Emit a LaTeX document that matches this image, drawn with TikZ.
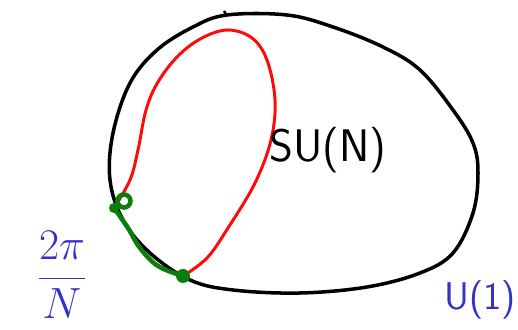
\documentclass[tikz,border=0pt]{standalone}
\usepackage{tikz}
\usetikzlibrary{positioning}

\definecolor{loopred}{RGB}{255,10,10}
\definecolor{pathgreen}{RGB}{10,125,10}
\definecolor{inkblue}{RGB}{50,50,200}

\begin{document}
\begin{tikzpicture}[
	x=0.02cm, y=-0.02cm,
	blob/.style={
		draw=black,
		line width=2pt,
		line join=round
	},
	redloop/.style={
		draw=loopred,
		line width=1.7pt,
		line cap=round
	},
	greenpath/.style={
		draw=pathgreen,
		line width=2.6pt,
		line cap=round
	},
	grouplabel/.style={
		font=\sffamily\fontsize{26}{28}\selectfont,
		inner sep=0pt
	},
	bluelabel/.style={
		text=inkblue,
		font=\sffamily\fontsize{22}{24}\selectfont,
		inner sep=0pt
	}
	]
	
	\useasboundingbox (0,0) rectangle (518,330);
	
	% ======================
	% Group manifold
	% ======================
	\draw[blob] plot[smooth cycle, tension=0.6] coordinates {
		(227,15) (287,15) (333,27) (383,47) (420,70) (453,110)
		(473,143) (478,173) (473,213) (453,253) (420,273) (367,287)
		(300,293) (233,290) (190,280) (150,253) (123,220) (110,180)
		(113,133) (130,83) (157,50) (193,27)};
	\draw[blob, line width=1.4pt] (224,11) -- (227,16);
	
	% ======================
	% Closed loop
	% ======================
	\coordinate (start) at (114,208);
	\coordinate (stop) at (183,276);
	\draw[redloop] plot[smooth, tension=0.6] coordinates {
		(start) (130,180) (138,150) (146,110) (158,82) (178,56)
		(202,38) (228,30) (252,38) (267,60) (275,100) (271,140)
		(255,183) (228,228) (207,258) (stop)};
	
	% ======================
	% Path in the centre
	% ======================
	\fill[pathgreen] (start) circle[radius=5];
	\draw[greenpath] (start) ++(10,-7) circle[radius=6.5];
	\draw[greenpath] plot[smooth, tension=0.6] coordinates {
		(start) (128,228) (140,248) (158,266) (stop)};
	\fill[pathgreen] (stop) circle[radius=7];
	
	% Labels
	\node (sun) [grouplabel] at (328,150) {SU(N)};
	\node (uone) [bluelabel] at (480,300) {U(1)};
	\node (angle) [bluelabel, font=\sffamily\fontsize{32}{34}\selectfont]
		at (62,275) {$\displaystyle\frac{2\pi}{N}$};
	
\end{tikzpicture}
\end{document}
